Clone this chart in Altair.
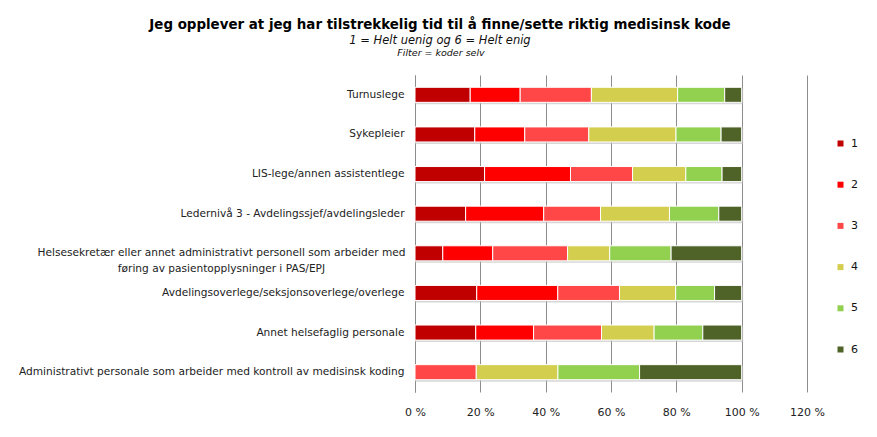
import altair as alt
import pandas as pd

categories = [
    "Turnuslege",
    "Sykepleier",
    "LIS-lege/annen assistentlege",
    "Ledernivå 3 - Avdelingssjef/avdelingsleder",
    "Helsesekretær eller annet administrativt personell som arbeider med|føring av pasientopplysninger i PAS/EPJ",
    "Avdelingsoverlege/seksjonsoverlege/overlege",
    "Annet helsefaglig personale",
    "Administrativt personale som arbeider med  kontroll av medisinsk koding",
]
levels = ["1", "2", "3", "4", "5", "6"]
colors = ["#C00000", "#FF0000", "#FF4747", "#D4CE4E", "#92D050", "#4F6228"]

share_1 = [16.9, 18.3, 21.3, 15.5, 8.5, 18.9, 18.6, 0.0]
share_2 = [15.3, 15.3, 26.3, 23.9, 15.3, 24.8, 17.7, 0.0]
share_3 = [21.8, 19.6, 19.0, 17.4, 22.9, 18.9, 20.8, 18.75]
share_4 = [26.4, 26.7, 16.3, 21.1, 12.9, 17.2, 16.1, 25.0]
share_5 = [14.4, 13.8, 11.1, 15.1, 18.8, 11.9, 14.9, 25.0]
share_6 = [5.2, 6.3, 6.0, 7.0, 21.6, 8.3, 11.9, 31.25]

x_ticks = [0, 20, 40, 60, 80, 100, 120]

series = [share_1, share_2, share_3, share_4, share_5, share_6]
rows = []
for li, (lvl, vals) in enumerate(zip(levels, series)):
    for cat, v in zip(categories, vals):
        rows.append({"kategori": cat, "svar": lvl, "andel": v, "rek": li})
df = pd.DataFrame(rows)

multi = categories[4]
LABEL_FONT = "DejaVu Sans"

x_scale = alt.Scale(domain=[0, 120], nice=False)
y_scale = alt.Scale(paddingInner=0.62, paddingOuter=0.31)

x_axis = alt.Axis(
    values=x_ticks,
    labelExpr="datum.value + ' %'",
    labelFlush=False,
    grid=True,
    gridColor="#8c8c8c",
    domain=False,
    ticks=False,
    tickSize=0,
    labelPadding=14,
    labelFont=LABEL_FONT,
    labelFontSize=11,
    labelColor="#222222",
    title=None,
)
y_axis = alt.Axis(
    title=None,
    grid=False,
    ticks=False,
    tickSize=0,
    domainColor="#8c8c8c",
    labelLimit=600,
    labelFont=LABEL_FONT,
    labelFontSize=10.6,
    labelColor="#222222",
    labelLineHeight=16,
    labelExpr="split(datum.label, '|')",
    labelAlign={"condition": {"test": f"datum.value === '{multi}'", "value": "center"}, "value": "right"},
    labelPadding={"condition": {"test": f"datum.value === '{multi}'", "value": 194}, "value": 11},
)

shadow = alt.Chart(df).mark_bar(color="#bdbdbd", opacity=0.6, xOffset=1.5, yOffset=2).encode(
    x=alt.X("sum(andel):Q", scale=x_scale, axis=x_axis),
    y=alt.Y("kategori:N", sort=categories, scale=y_scale, axis=y_axis),
)

bars = alt.Chart(df).mark_bar(stroke="white", strokeWidth=1).encode(
    x=alt.X("andel:Q", stack="zero", scale=x_scale, axis=x_axis),
    y=alt.Y("kategori:N", sort=categories, scale=y_scale, axis=y_axis),
    color=alt.Color(
        "svar:N",
        scale=alt.Scale(domain=levels, range=colors),
        legend=alt.Legend(
            title=None,
            orient="none",
            legendX=420,
            legendY=63,
            symbolType="square",
            symbolSize=36,
            symbolStrokeWidth=0,
            labelFont=LABEL_FONT,
            labelFontSize=11,
            labelColor="#111111",
            rowPadding=29.2,
            labelOffset=5,
        ),
    ),
    order=alt.Order("rek:Q", sort="ascending"),
)

filt = alt.Chart(pd.DataFrame({"t": ["Filter = koder selv"]})).mark_text(
    font=LABEL_FONT, fontSize=9.5, fontStyle="italic", align="center", baseline="middle", color="#111111"
).encode(x=alt.value(26), y=alt.value(-22), text="t:N")

chart = alt.layer(shadow, bars, filt).properties(
    width=392,
    height=317,
    autosize=alt.AutoSizeParams(type="none"),
    padding={"left": 407, "top": 67, "right": 54, "bottom": 40},
    title=alt.Title(
        text="Jeg opplever at jeg har tilstrekkelig tid til å finne/sette riktig medisinsk kode",
        subtitle="1 = Helt uenig og 6 = Helt enig",
        anchor="middle",
        frame="group",
        dx=-171,
        offset=2,
        font="Liberation Sans Narrow, Arial Narrow, DejaVu Sans Condensed",
        fontSize=14.9,
        fontWeight="bold",
        color="#000000",
        subtitleFont=LABEL_FONT,
        subtitleFontSize=11.5,
        subtitleFontStyle="italic",
        subtitleColor="#111111",
        subtitlePadding=3,
    ),
).configure_view(stroke=None)

chart.save("out.html", embed_options={"renderer": "svg", "actions": False})
